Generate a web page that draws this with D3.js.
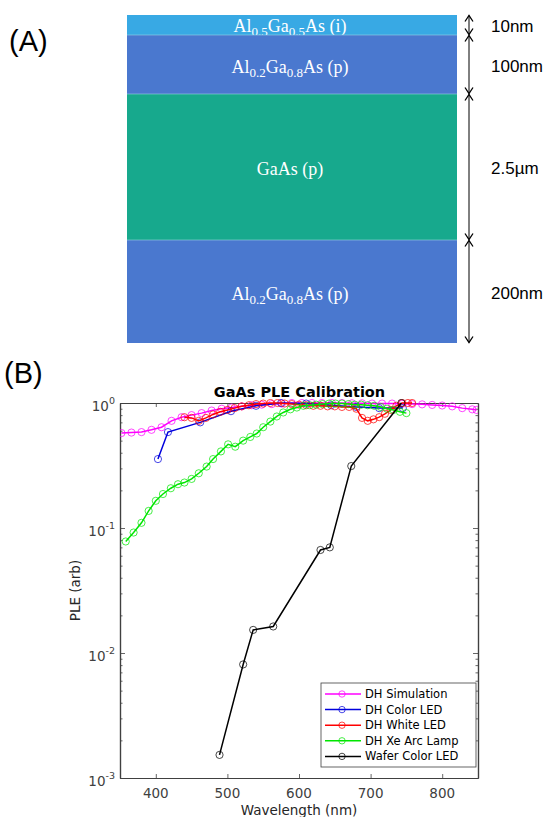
<!DOCTYPE html>
<html>
<head>
<meta charset="utf-8">
<title>GaAs PLE Calibration</title>
<script src="https://cdn.jsdelivr.net/npm/d3@7"></script>
<style>
body { margin: 0; background: #fff; }
svg { display: block; }
.panel { font: 29px "Liberation Sans", Arial, sans-serif; fill: #000; }
.layer text { font-family: "Liberation Serif", serif; font-size: 18px; fill: #fff; }
.thick { font: 17px "Liberation Sans", Arial, sans-serif; fill: #000; }
.tick-label { font: 13.5px "DejaVu Sans", sans-serif; fill: #404040; }
.axis-label { font: 13.5px "DejaVu Sans", sans-serif; fill: #262626; }
.title { font: bold 14.5px "DejaVu Sans", sans-serif; fill: #000; }
.legend text { font: 11.5px "DejaVu Sans", sans-serif; fill: #000; }
</style>
</head>
<body>
<script>
// ---- panel (A): layer stack ----
var layerLabels = ["Al_{0.5}Ga_{0.5}As (i)", "Al_{0.2}Ga_{0.8}As (p)", "GaAs (p)", "Al_{0.2}Ga_{0.8}As (p)"];
var layerThickness = ["10nm", "100nm", "2.5µm", "200nm"];
var layerColors = ["#38a9e4", "#4a78cf", "#17a98d", "#4a78cf"];

// ---- panel (B): PLE curves, [wavelength nm, PLE] ----
var seriesNames = ["DH Simulation", "DH Color LED", "DH White LED", "DH Xe Arc Lamp", "Wafer Color LED"];
var seriesColors = ["#ff00ff", "#0000dd", "#ff0000", "#00e600", "#000000"];

var dhSimulation = [
  [352, 0.575], [366, 0.58], [380, 0.585], [394, 0.61], [408, 0.64], [422, 0.72],
  [436, 0.77], [450, 0.80], [464, 0.83], [478, 0.87], [492, 0.90], [506, 0.92],
  [520, 0.94], [534, 0.96], [548, 0.97], [562, 0.98], [576, 0.99], [590, 1.0],
  [604, 1.0], [618, 1.0], [632, 1.0], [646, 1.0], [660, 1.0], [674, 0.995],
  [688, 0.995], [702, 0.99], [716, 0.99], [730, 0.99], [744, 0.985], [758, 0.98],
  [772, 0.975], [786, 0.965], [800, 0.955], [814, 0.94], [828, 0.91], [842, 0.89], [848, 0.88]
];
var dhColorLed = [
  [403, 0.356], [417, 0.585], [462, 0.70], [505, 0.86], [540, 0.95], [575, 1.0],
  [610, 0.99], [645, 0.96], [680, 0.93], [712, 0.91], [745, 0.91]
];
var dhWhiteLed = [
  [440, 0.77], [450, 0.76], [460, 0.72], [470, 0.76], [480, 0.81], [490, 0.85],
  [500, 0.88], [510, 0.91], [520, 0.94], [530, 0.96], [540, 0.98], [550, 0.99],
  [560, 1.0], [570, 1.0], [580, 0.99], [590, 0.98], [600, 0.97], [610, 0.96],
  [620, 0.95], [630, 0.95], [640, 0.94], [650, 0.94], [660, 0.93], [670, 0.93],
  [680, 0.90], [688, 0.76], [696, 0.72], [704, 0.74], [712, 0.77], [720, 0.82],
  [728, 0.88], [736, 0.95], [744, 1.0], [752, 1.0], [758, 1.0]
];
var dhXeArcLamp = [
  [358, 0.078], [369, 0.092], [380, 0.110], [390, 0.137], [400, 0.165], [410, 0.187],
  [421, 0.208], [431, 0.224], [440, 0.231], [450, 0.247], [460, 0.274], [471, 0.31],
  [480, 0.356], [491, 0.41], [501, 0.467], [511, 0.447], [522, 0.50], [532, 0.535],
  [541, 0.57], [550, 0.64], [560, 0.71], [569, 0.78], [578, 0.84], [588, 0.89],
  [597, 0.92], [606, 0.95], [615, 0.96], [624, 0.97], [633, 0.98], [642, 0.99],
  [651, 0.99], [660, 0.99], [669, 0.98], [678, 0.97], [687, 0.97], [696, 0.96],
  [705, 0.95], [714, 0.93], [723, 0.90], [732, 0.88], [741, 0.85], [750, 0.83]
];
var waferColorLed = [
  [489, 0.00153], [522, 0.0081], [536, 0.0153], [564, 0.0163], [630, 0.0667],
  [643, 0.070], [673, 0.313], [743, 1.0]
];
var seriesData = [dhSimulation, dhColorLed, dhWhiteLed, dhXeArcLamp, waferColorLed];

var xTicks = [400, 500, 600, 700, 800];
var yTicks = [1e-3, 1e-2, 1e-1, 1];
var yTickExp = ["-3", "-2", "-1", "0"];

var W = 550, H = 817;
var svg = d3.select("body").append("svg")
  .attr("width", W)
  .attr("height", H);

// ---------------- panel (A) ----------------
svg.append("text").attr("class", "panel").attr("x", 9).attr("y", 51).text("(A)");

// drawn (schematic) heights of the layers, not to scale
var stack = {left: 127, right: 457, top: 15, heights: [20, 59, 146, 103]};
var tops = [stack.top];
stack.heights.forEach(function(h, i) { tops.push(tops[i] + h); });

var layer = svg.selectAll(".layer")
  .data(layerLabels)
  .enter().append("g")
  .attr("class", "layer");

layer.append("rect")
  .attr("x", stack.left)
  .attr("y", function(d, i) { return tops[i]; })
  .attr("width", stack.right - stack.left)
  .attr("height", function(d, i) { return stack.heights[i]; })
  .style("fill", function(d, i) { return layerColors[i]; });

// thin light seams between layers
svg.selectAll(".seam")
  .data(tops.slice(1, -1))
  .enter().append("line")
  .attr("x1", stack.left).attr("x2", stack.right)
  .attr("y1", function(d) { return d; }).attr("y2", function(d) { return d; })
  .style("stroke", "#9fd6e6").style("stroke-width", 0.8).style("opacity", 0.7);

// formula text with subscripts
layer.append("text")
  .attr("x", 290)
  .attr("y", function(d, i) { return i === 0 ? 32 : tops[i] + stack.heights[i] / 2 + 8; })
  .style("text-anchor", "middle")
  .each(function(d) {
    var t = d3.select(this);
    var parts = d.split(/(_\{[^}]*\})/).filter(function(p) { return p.length; });
    var lowered = false;
    parts.forEach(function(p) {
      if (p.charAt(0) === "_") {
        t.append("tspan").attr("dy", 4).style("font-size", "13px").text(p.slice(2, -1));
        lowered = true;
      } else {
        t.append("tspan").attr("dy", lowered ? -4 : 0).text(p);
        lowered = false;
      }
    });
  });

// double-headed thickness arrows
var ax = 469;
var arrow = svg.selectAll(".arrow")
  .data(layerThickness)
  .enter().append("g")
  .attr("class", "arrow");

arrow.append("line")
  .attr("x1", ax).attr("x2", ax)
  .attr("y1", function(d, i) { return tops[i] + 0.5; })
  .attr("y2", function(d, i) { return tops[i + 1] - 0.5; })
  .style("stroke", "#000").style("stroke-width", 1);

arrow.append("path")
  .attr("d", function(d, i) {
    var a = tops[i] + 0.5, b = tops[i + 1] - 0.5, s = Math.min(6, (b - a) / 2 - 1);
    return "M" + (ax - 4) + "," + (a + s) + "L" + ax + "," + a + "L" + (ax + 4) + "," + (a + s) +
      "M" + (ax - 4) + "," + (b - s) + "L" + ax + "," + b + "L" + (ax + 4) + "," + (b - s);
  })
  .style("fill", "none").style("stroke", "#000").style("stroke-width", 1.3);

arrow.append("text")
  .attr("class", "thick")
  .attr("x", 491)
  .attr("y", function(d, i) { return tops[i] + stack.heights[i] / 2 + 7; })
  .text(function(d) { return d; });

// ---------------- panel (B) ----------------
svg.append("text").attr("class", "panel").attr("x", 4).attr("y", 383).text("(B)");

var plot = {left: 120, top: 403, width: 358, height: 375};

var xScale = d3.scaleLinear().domain([350, 850]).range([plot.left, plot.left + plot.width]);
var yScale = d3.scaleLog().domain([1e-3, 1]).range([plot.top + plot.height, plot.top]);

svg.append("rect")
  .attr("x", plot.left).attr("y", plot.top)
  .attr("width", plot.width).attr("height", plot.height)
  .style("fill", "#fff");

svg.append("clipPath").attr("id", "clip")
  .append("rect")
  .attr("x", plot.left).attr("y", plot.top - 4)
  .attr("width", plot.width).attr("height", plot.height + 4);

// axes, ticks pointing inward like MATLAB
var bottomAxis = d3.axisBottom(xScale).tickValues(xTicks).tickSizeInner(-4).tickSizeOuter(0).tickFormat("");
var topAxis = d3.axisTop(xScale).tickValues(xTicks).tickSizeInner(-4).tickSizeOuter(0).tickFormat("");
var minorY = [];
[1e-3, 1e-2, 1e-1].forEach(function(dec) {
  for (var k = 2; k <= 9; k++) minorY.push(dec * k);
});
var leftMajor = d3.axisLeft(yScale).tickValues(yTicks).tickSizeInner(-5).tickSizeOuter(0).tickFormat("");
var rightMajor = d3.axisRight(yScale).tickValues(yTicks).tickSizeInner(-5).tickSizeOuter(0).tickFormat("");
var leftMinor = d3.axisLeft(yScale).tickValues(minorY).tickSizeInner(-2.5).tickSizeOuter(0).tickFormat("");
var rightMinor = d3.axisRight(yScale).tickValues(minorY).tickSizeInner(-2.5).tickSizeOuter(0).tickFormat("");

svg.append("g").attr("class", "axis").attr("transform", "translate(0," + (plot.top + plot.height) + ")").call(bottomAxis);
svg.append("g").attr("class", "axis").attr("transform", "translate(0," + plot.top + ")").call(topAxis);
svg.append("g").attr("class", "axis").attr("transform", "translate(" + plot.left + ",0)").call(leftMajor);
svg.append("g").attr("class", "axis").attr("transform", "translate(" + plot.left + ",0)").call(leftMinor);
svg.append("g").attr("class", "axis").attr("transform", "translate(" + (plot.left + plot.width) + ",0)").call(rightMajor);
svg.append("g").attr("class", "axis").attr("transform", "translate(" + (plot.left + plot.width) + ",0)").call(rightMinor);

svg.selectAll(".axis path").style("stroke", "#404040").style("stroke-width", 1.2);
svg.selectAll(".axis line").style("stroke", "#404040").style("stroke-width", 0.8);

// tick labels
svg.selectAll(".xlab")
  .data(xTicks)
  .enter().append("text")
  .attr("class", "tick-label")
  .attr("x", function(d) { return xScale(d); })
  .attr("y", 798)
  .style("text-anchor", "middle")
  .text(function(d) { return d; });

var ylab = svg.selectAll(".ylab")
  .data(yTicks)
  .enter().append("text")
  .attr("class", "tick-label")
  .attr("x", 115)
  .attr("y", function(d) { return yScale(d) + 8; })
  .style("text-anchor", "end");
ylab.append("tspan").text("10");
ylab.append("tspan")
  .attr("dy", -7)
  .style("font-size", "9.5px")
  .text(function(d, i) { return yTickExp[i]; });

svg.append("text")
  .attr("class", "axis-label")
  .attr("x", plot.left + plot.width / 2)
  .attr("y", 815)
  .style("text-anchor", "middle")
  .text("Wavelength (nm)");

svg.append("text")
  .attr("class", "axis-label")
  .attr("transform", "translate(80," + (plot.top + plot.height / 2) + ") rotate(-90)")
  .style("text-anchor", "middle")
  .text("PLE (arb)");

svg.append("text")
  .attr("class", "title")
  .attr("x", plot.left + plot.width / 2 + 0.5)
  .attr("y", 396.5)
  .style("text-anchor", "middle")
  .text("GaAs PLE Calibration");

// curves
var line = d3.line()
  .x(function(d) { return xScale(d[0]); })
  .y(function(d) { return yScale(d[1]); });

var series = svg.append("g").attr("clip-path", "url(#clip)")
  .selectAll(".series")
  .data(seriesData)
  .enter().append("g")
  .attr("class", "series");

series.append("path")
  .attr("d", line)
  .style("fill", "none")
  .style("stroke", function(d, i) { return seriesColors[i]; })
  .style("stroke-width", 1.5);

series.selectAll("circle")
  .data(function(d, i) { return d.map(function(p) { return {p: p, c: seriesColors[i]}; }); })
  .enter().append("circle")
  .attr("cx", function(d) { return xScale(d.p[0]); })
  .attr("cy", function(d) { return yScale(d.p[1]); })
  .attr("r", 3.6)
  .style("fill", "none")
  .style("stroke", function(d) { return d.c; })
  .style("stroke-width", 0.9)
  .style("opacity", 0.8);

// legend
var lg = {x: 321, y: 683, w: 155, h: 84, row: 15.6};
svg.append("rect")
  .attr("x", lg.x).attr("y", lg.y)
  .attr("width", lg.w).attr("height", lg.h)
  .style("fill", "#fff").style("stroke", "#404040").style("stroke-width", 0.8);

var legend = svg.selectAll(".legend")
  .data(seriesNames)
  .enter().append("g")
  .attr("class", "legend")
  .attr("transform", function(d, i) { return "translate(0," + (lg.y + 11 + i * lg.row) + ")"; });

legend.append("line")
  .attr("x1", lg.x + 4).attr("x2", lg.x + 40)
  .style("stroke", function(d, i) { return seriesColors[i]; })
  .style("stroke-width", 1.5);

legend.append("circle")
  .attr("cx", lg.x + 21).attr("r", 3.2)
  .style("fill", "none")
  .style("stroke", function(d, i) { return seriesColors[i]; })
  .style("stroke-width", 0.9)
  .style("opacity", 0.8);

legend.append("text")
  .attr("x", lg.x + 44)
  .attr("dy", "0.35em")
  .text(function(d) { return d; });
</script>
</body>
</html>
